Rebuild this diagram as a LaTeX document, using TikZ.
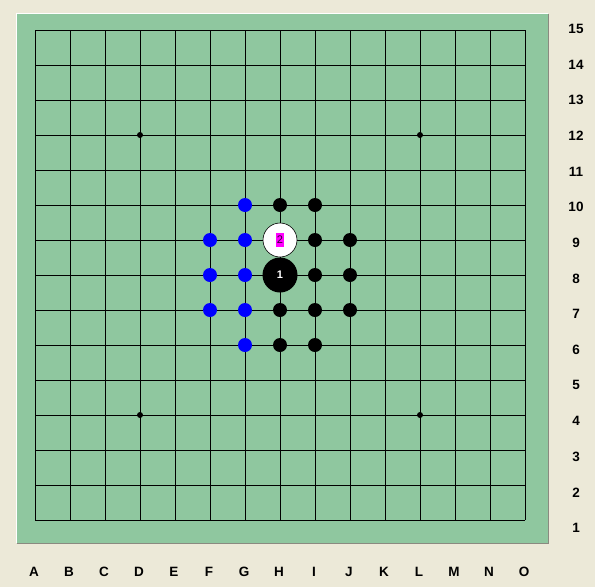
\documentclass[tikz,border=0pt]{standalone}
\usepackage{fontspec}
\setmainfont{Liberation Sans}
\definecolor{bgc}{HTML}{ECE9D8}
\definecolor{boardc}{HTML}{8FC79F}
\definecolor{edgeg}{HTML}{8A8A80}
\definecolor{mag}{HTML}{FF00FF}
\begin{document}
\begin{tikzpicture}[x=1pt,y=-1pt,
  lbl/.style={font=\fontsize{13.5}{13.5}\selectfont\bfseries, inner sep=0pt},
  small/.style={circle, inner sep=0pt, minimum size=14pt},
  bstone/.style={small, fill=black},
  ustone/.style={small, fill=blue},
  star/.style={circle, fill=black, inner sep=0pt, minimum size=6pt},
  gridline/.style={line width=1pt, black}]
\fill[bgc] (0,0) rectangle (595,587);
\useasboundingbox (0,0) rectangle (595,587);
% board
\fill[boardc] (17,14) rectangle (548,543);
\draw[white, line width=1pt] (16.5,543) -- (16.5,13.5) -- (548,13.5);
\draw[edgeg, line width=1pt] (16.5,543.5) -- (548.5,543.5) -- (548.5,13.5);
% grid
\foreach \i in {0,...,14} {
  \draw[gridline] (35+35*\i,30) -- (35+35*\i,520);
  \draw[gridline] (35,30+35*\i) -- (525,30+35*\i);
}
% star points
\node[star] (s1) at (140,135) {};
\node[star] (s2) at (420,135) {};
\node[star] (s3) at (140,415) {};
\node[star] (s4) at (420,415) {};
% column letters
\foreach \l [count=\i from 0] in {A,B,C,D,E,F,G,H,I,J,K,L,M,N,O} {
  \node[lbl] (col\l) at (34+35*\i,572) {\l};
}
% row numbers
\foreach \n in {1,...,15} {
  \node[lbl] (row\n) at (576,29+35.64*15-35.64*\n) {\n};
}
% blue stones
\node[ustone] (G10) at (245,205) {};
\node[ustone] (F9) at (210,240) {};
\node[ustone] (G9) at (245,240) {};
\node[ustone] (F8) at (210,275) {};
\node[ustone] (G8) at (245,275) {};
\node[ustone] (F7) at (210,310) {};
\node[ustone] (G7) at (245,310) {};
\node[ustone] (G6) at (245,345) {};
% black small stones
\node[bstone] (H10) at (280,205) {};
\node[bstone] (I10) at (315,205) {};
\node[bstone] (I9) at (315,240) {};
\node[bstone] (J9) at (350,240) {};
\node[bstone] (I8) at (315,275) {};
\node[bstone] (J8) at (350,275) {};
\node[bstone] (H7) at (280,310) {};
\node[bstone] (I7) at (315,310) {};
\node[bstone] (J7) at (350,310) {};
\node[bstone] (H6) at (280,345) {};
\node[bstone] (I6) at (315,345) {};
% big stones
\node[circle, fill=black, inner sep=0pt, minimum size=35pt] (H8) at (280,275) {};
\node[font=\fontsize{11}{11}\selectfont\bfseries, text=white, inner sep=0pt] (n1) at (280,275) {1};
\node[circle, fill=white, draw=black, line width=0.6pt, inner sep=0pt, minimum size=34pt] (H9) at (280,240) {};
\node[fill=mag, font=\fontsize{11}{11}\selectfont, text=black!80!mag, inner sep=0pt, minimum width=8pt, minimum height=14pt] (n2) at (280,240) {2};
\end{tikzpicture}
\end{document}
